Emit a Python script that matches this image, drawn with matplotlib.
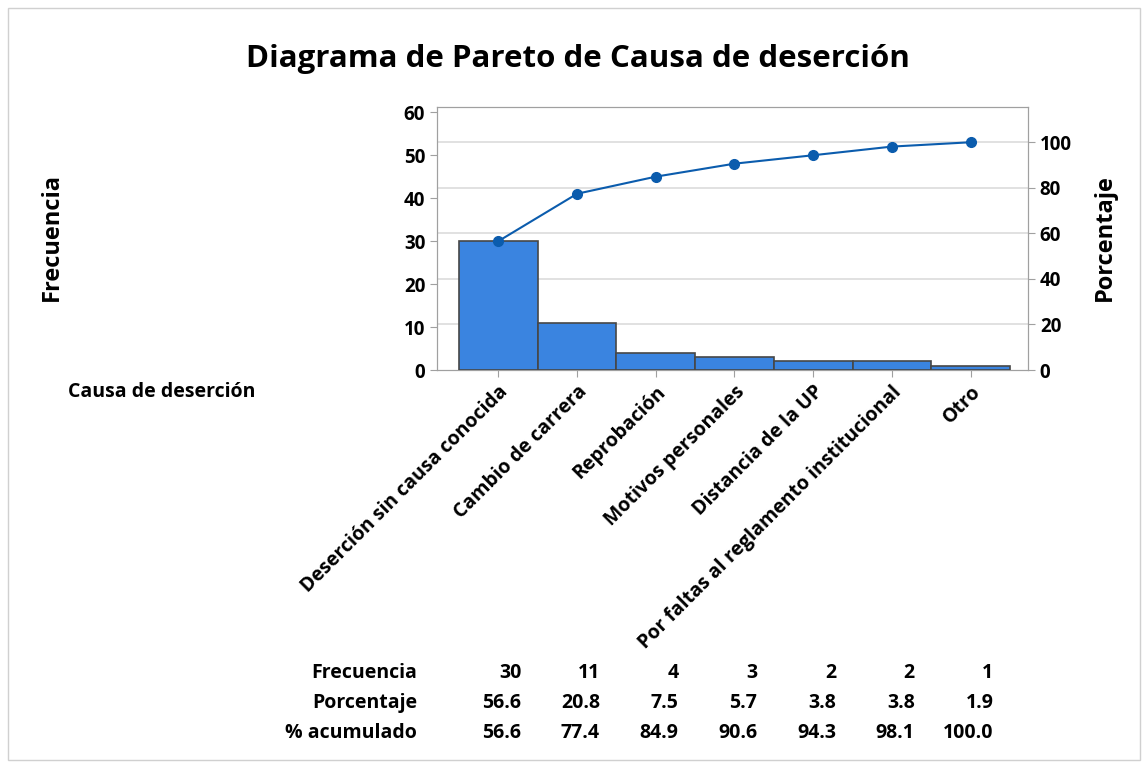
import numpy as np
import matplotlib
matplotlib.use("Agg")
import matplotlib.pyplot as plt
import matplotlib.transforms as mtransforms
from matplotlib.patches import Rectangle

plt.rcParams["font.family"] = ["Open Sans", "DejaVu Sans"]
plt.rcParams["font.weight"] = "bold"

# datos
causas = [
    "Deserción sin causa conocida",
    "Cambio de carrera",
    "Reprobación",
    "Motivos personales",
    "Distancia de la UP",
    "Por faltas al reglamento institucional",
    "Otro",
]
frecuencia = [30, 11, 4, 3, 2, 2, 1]
porcentaje = [56.6, 20.8, 7.5, 5.7, 3.8, 3.8, 1.9]
acumulado = [56.6, 77.4, 84.9, 90.6, 94.3, 98.1, 100.0]

total = sum(frecuencia)
x = np.arange(len(causas))

fig = plt.figure(figsize=(11.45, 7.65), dpi=100)
ax = fig.add_axes([0.3817, 0.5163, 0.5161, 0.3438])
ax2 = ax.twinx()

ymax = 61.2
ax.set_ylim(0, ymax)
ax2.set_ylim(0, ymax / total * 100)
ax.set_xlim(-0.78, 6.73)

# rejilla en el eje de porcentaje
for v in [20, 40, 60, 80, 100]:
    ax2.axhline(v, color="#dcdcdc", lw=1.2, zorder=0)

ax.bar(x, frecuencia, width=1.0, color="#3a84e0", edgecolor="#474747",
       linewidth=1.2, zorder=3)
ax.set_zorder(ax2.get_zorder() + 1)
ax.patch.set_visible(False)

# la curva acumulada se dibuja en ax para quedar encima
ax.plot(x, np.array(acumulado) / 100 * total, color="#0b5cad", lw=1.5,
        marker="o", ms=7, zorder=4)

fs = 14
ax.set_yticks(range(0, 61, 10))
ax2.set_yticks(range(0, 101, 20))
ax.set_xticks(x)
ax.set_xticklabels(causas, rotation=45, ha="right", rotation_mode="anchor",
                   fontsize=fs, fontweight="bold")
for a in (ax, ax2):
    for s in a.spines.values():
        s.set_color("#a0a0a0")
    a.tick_params(colors="#a0a0a0", labelcolor="black", labelsize=13.5,
                  length=5, direction="out")
ax.tick_params(axis="x", labelsize=fs)
for t in ax.get_yticklabels() + ax2.get_yticklabels():
    t.set_fontweight("bold")

fig.text(0.505, 0.923, "Diagrama de Pareto de Causa de deserción",
         ha="center", va="center", fontsize=22.5, fontweight="bold")
fig.text(0.045, 0.69, "Frecuencia", rotation=90, ha="center", va="center",
         fontsize=17, fontweight="bold")
fig.text(0.965, 0.69, "Porcentaje", rotation=90, ha="center", va="center",
         fontsize=17, fontweight="bold")
fig.text(0.059, 0.488, "Causa de deserción", ha="left", va="center",
         fontsize=fs, fontweight="bold")

# tabla inferior
trans = mtransforms.blended_transform_factory(ax.transData, fig.transFigure)
filas = [
    ("Frecuencia", [str(v) for v in frecuencia]),
    ("Porcentaje", [f"{v:.1f}" for v in porcentaje]),
    ("% acumulado", [f"{v:.1f}" for v in acumulado]),
]
for k, (nombre, vals) in enumerate(filas):
    yy = 1 - (673 + 30 * k) / 765
    fig.text(417 / 1145, yy, nombre, ha="right", va="center",
             fontsize=fs, fontweight="bold")
    for i, v in enumerate(vals):
        fig.text(x[i] + 0.29, yy, v, transform=trans, ha="right",
                 va="center", fontsize=fs, fontweight="bold")

fig.patches.append(Rectangle((8 / 1145, 5 / 765), 1132 / 1145, 752 / 765,
                             transform=fig.transFigure, fill=False,
                             edgecolor="#d0d0d0", lw=1))

fig.savefig("out.png", dpi=100)
